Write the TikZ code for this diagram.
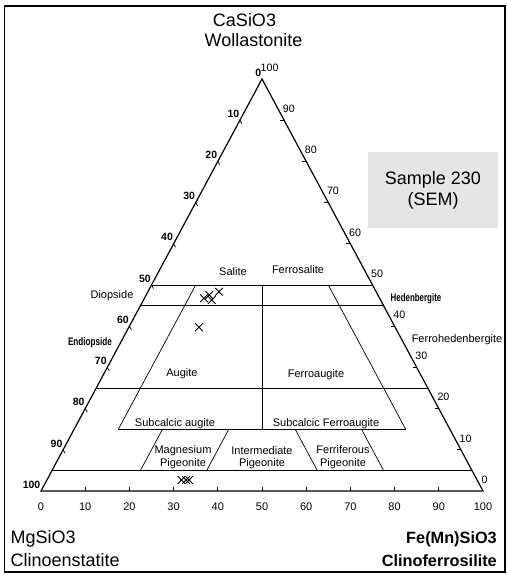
\documentclass[tikz,border=0pt]{standalone}
\usepackage{fontspec}
\setmainfont{Liberation Sans}
\usepackage{graphicx}
\usetikzlibrary{shapes.misc}
\begin{document}
\begin{tikzpicture}[x=1pt,y=-1pt,
  edge/.style={line width=1.2pt},
  zone/.style={line width=0.7pt},
  tickmark/.style={line width=0.7pt},
  lab/.style={font=\fontsize{11}{12.5}\selectfont, inner sep=0pt, text height=8pt, text depth=0pt},
  lab2/.style={font=\fontsize{11}{12.5}\selectfont, inner sep=0pt, align=center},
  numr/.style={font=\fontsize{10.7}{12}\selectfont, inner sep=0pt, anchor=south west, shift={(-1.5,-7.5)}},
  numl/.style={font=\fontsize{10.5}{12}\selectfont\bfseries, inner sep=0pt, anchor=south east, shift={(-0.5,-2.5)}},
  numb/.style={font=\fontsize{11}{12}\selectfont, inner sep=0pt, anchor=base, shift={(0,19.5)}},
  big/.style={font=\fontsize{18}{21}\selectfont, inner sep=0pt},
  bigb/.style={font=\fontsize{16.3}{20}\selectfont\bfseries, inner sep=0pt},
  sample/.style={cross out, draw, line width=0.9pt, minimum size=6.8pt, inner sep=0pt}
]
\useasboundingbox (0,0) rectangle (506,575);
\draw[line width=1.2pt] (4.5,6) rectangle (505,572);

% corners
\coordinate (Ca) at (262,79);
\coordinate (Mg) at (41,491);
\coordinate (Fe) at (483,491);
\draw[edge] (Ca) -- (Mg) -- (Fe) -- cycle;

% field boundaries
\coordinate (h50l) at (barycentric cs:Ca=0.5,Mg=0.5);
\coordinate (h50r) at (barycentric cs:Ca=0.5,Fe=0.5);
\coordinate (h45l) at (barycentric cs:Ca=0.45,Mg=0.55);
\coordinate (h45r) at (barycentric cs:Ca=0.45,Fe=0.55);
\coordinate (h25l) at (barycentric cs:Ca=0.25,Mg=0.75);
\coordinate (h25r) at (barycentric cs:Ca=0.25,Fe=0.75);
\coordinate (h05l) at (barycentric cs:Ca=0.05,Mg=0.95);
\coordinate (h05r) at (barycentric cs:Ca=0.05,Fe=0.95);
\coordinate (h15l) at (barycentric cs:Ca=0.15,Fe=0.1,Mg=0.75);
\coordinate (h15r) at (barycentric cs:Ca=0.15,Fe=0.75,Mg=0.1);
\coordinate (f10t) at (barycentric cs:Ca=0.5,Fe=0.1,Mg=0.4);
\coordinate (m10t) at (barycentric cs:Ca=0.5,Fe=0.4,Mg=0.1);
\coordinate (vt) at (barycentric cs:Ca=0.5,Fe=0.25,Mg=0.25);
\coordinate (vb) at (barycentric cs:Ca=0.15,Fe=0.425,Mg=0.425);
\coordinate (p1t) at (barycentric cs:Ca=0.15,Fe=0.2,Mg=0.65);
\coordinate (p1b) at (barycentric cs:Ca=0.05,Fe=0.2,Mg=0.75);
\coordinate (p2t) at (barycentric cs:Ca=0.15,Fe=0.35,Mg=0.5);
\coordinate (p2b) at (barycentric cs:Ca=0.05,Fe=0.35,Mg=0.6);
\coordinate (p3t) at (barycentric cs:Ca=0.15,Fe=0.5,Mg=0.35);
\coordinate (p3b) at (barycentric cs:Ca=0.05,Fe=0.6,Mg=0.35);
\coordinate (p4t) at (barycentric cs:Ca=0.15,Fe=0.65,Mg=0.2);
\coordinate (p4b) at (barycentric cs:Ca=0.05,Fe=0.75,Mg=0.2);

\draw[zone] (h50l) -- (h50r);
\draw[zone] (h45l) -- (h45r);
\draw[zone] (h25l) -- (h25r);
\draw[zone] (h05l) -- (h05r);
\draw[zone] (h15l) -- (h15r);
\draw[zone] (f10t) -- (h15l);
\draw[zone] (m10t) -- (h15r);
\draw[zone] (vt) -- (vb);
\draw[zone] (p1t) -- (p1b);
\draw[zone] (p2t) -- (p2b);
\draw[zone] (p3t) -- (p3b);
\draw[zone] (p4t) -- (p4b);

% ticks and scale numbers
\foreach \i in {1,...,9}{
  \pgfmathsetmacro{\w}{\i/10}
  \pgfmathsetmacro{\u}{1-\i/10}
  \coordinate (tb\i) at (barycentric cs:Fe=\w,Mg=\u);
  \draw[tickmark] (tb\i) -- ++(0,-4);
  \coordinate (tr\i) at (barycentric cs:Ca=\w,Fe=\u);
  \draw[tickmark] (tr\i) -- ++(-4,0);
  \coordinate (tl\i) at (barycentric cs:Ca=\w,Mg=\u);
  \draw[tickmark] (tl\i) -- ++(2,3.5);
}
\foreach \v in {0,10,...,100}{
  \pgfmathsetmacro{\w}{\v/100}
  \pgfmathsetmacro{\u}{1-\v/100}
  \node[numb] (nb\v) at (barycentric cs:Fe=\w,Mg=\u) {\v};
  \node[numr] (nr\v) at (barycentric cs:Ca=\w,Fe=\u) {\v};
  \node[numl] (nl\v) at (barycentric cs:Ca=\u,Mg=\w) {\v};
}

% field names
\node[lab] (salite) at (233,271) {Salite};
\node[lab] (ferrosalite) at (298,269) {Ferrosalite};
\node[lab] (diopside) at (112,294) {Diopside};
\node[lab] (endiopside) at (90,341) {\scalebox{0.74}[1]{\bfseries Endiopside}};
\node[lab] (hedenbergite) at (416,297) {\scalebox{0.72}[1]{\bfseries Hedenbergite}};
\node[lab] (ferrohed) at (457,338) {Ferrohedenbergite};
\node[lab] (augite) at (182,372) {Augite};
\node[lab] (ferroaugite) at (316,373) {Ferroaugite};
\node[lab] (subaug) at (175,422) {Subcalcic augite};
\node[lab] (subferro) at (326,422) {Subcalcic Ferroaugite};
\node[lab2] (mgpig) at (183,457) {Magnesium\\Pigeonite};
\node[lab2] (intpig) at (262,457.5) {Intermediate\\Pigeonite};
\node[lab2] (fepig) at (343,457) {Ferriferous\\Pigeonite};

% end-member names
\node[big, anchor=base] (casio) at (244.5,26.7) {CaSiO3};
\node[big, anchor=base] (wollast) at (253.5,46.7) {Wollastonite};
\node[big, anchor=base west] (mgsio) at (10.5,543.5) {MgSiO3};
\node[big, anchor=base west] (clinoen) at (10.5,566) {Clinoenstatite};
\node[bigb, anchor=base east] (fesio) at (497,543.3) {Fe(Mn)SiO3};
\node[bigb, anchor=base east] (clinofs) at (497,566.7) {Clinoferrosilite};

% sample box
\node[fill=gray!20, minimum width=130pt, minimum height=76pt, inner sep=0pt,
      font=\fontsize{18}{21}\selectfont, align=center] (samplebox) at (433,190) {Sample 230\\(SEM)};

% analyses
\node[sample] (s1) at (204,298.3) {};
\node[sample] (s2) at (209.3,295) {};
\node[sample] (s3) at (211.7,300) {};
\node[sample] (s4) at (219,291.7) {};
\node[sample] (s5) at (199,327.3) {};
\node[sample] (s6) at (181.5,480) {};
\node[sample] (s7) at (186,480) {};
\node[sample] (s8) at (189,480) {};
\end{tikzpicture}
\end{document}
